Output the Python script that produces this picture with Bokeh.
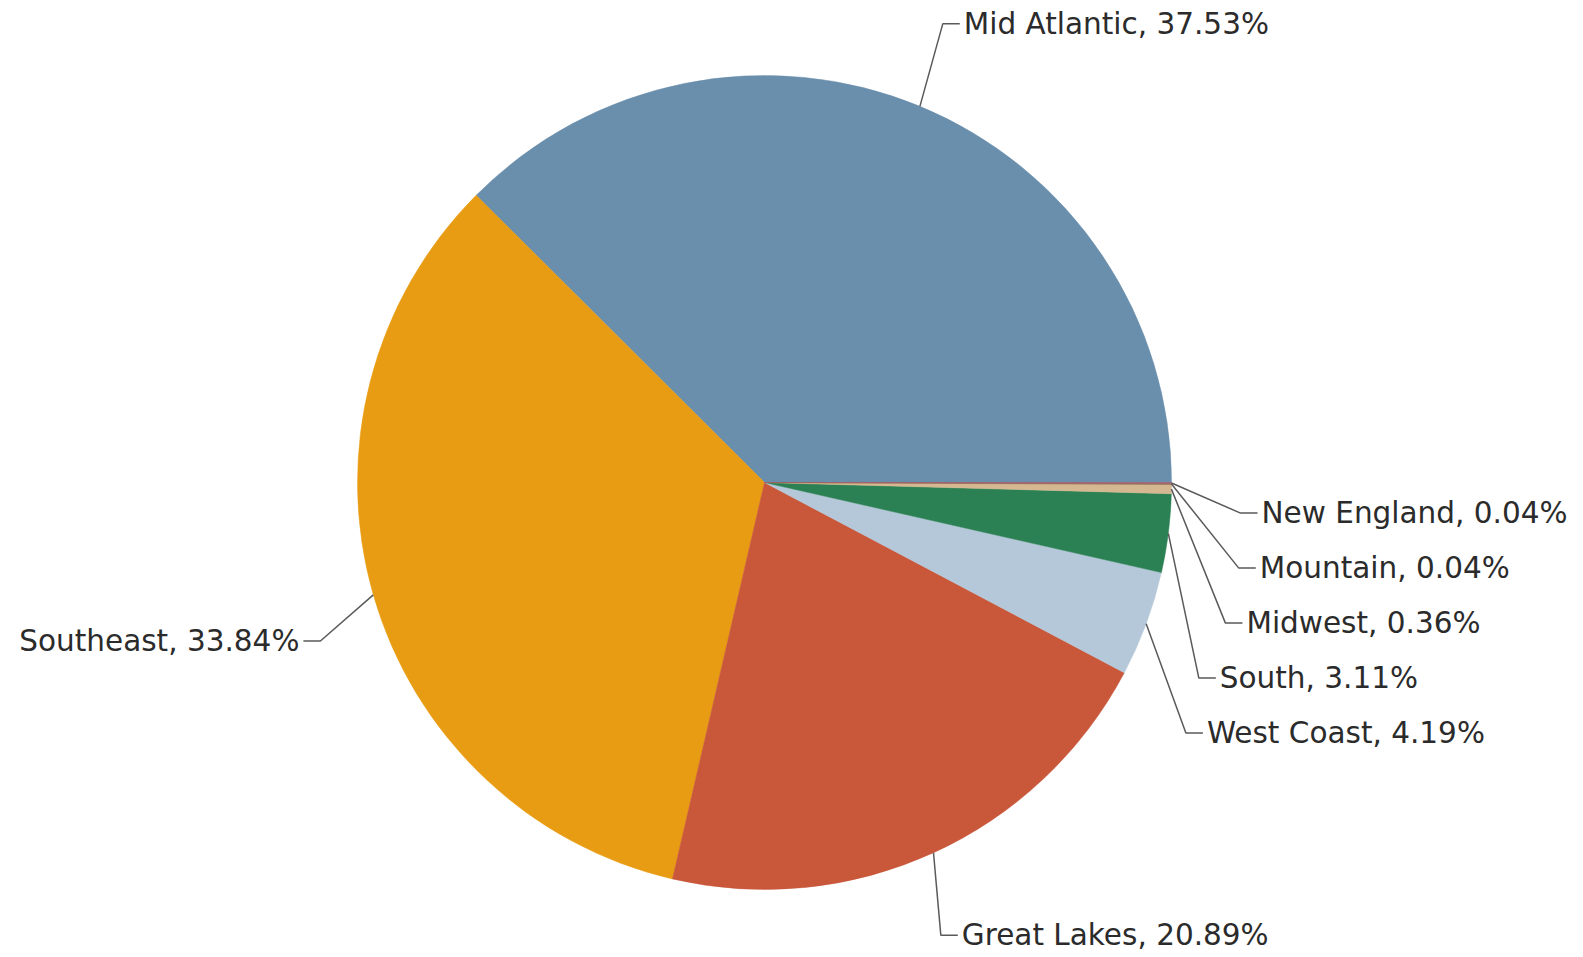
import math
from bokeh.plotting import figure
from bokeh.models import Range1d, ColumnDataSource
from bokeh.embed import file_html
from bokeh.resources import INLINE
from bokeh.core.properties import value

# ---------------- data ----------------
regions = ["Mid Atlantic", "Southeast", "Great Lakes", "West Coast",
           "South", "Midwest", "Mountain", "New England"]
shares = [37.53, 33.84, 20.89, 4.19, 3.11, 0.36, 0.04, 0.04]

# ---------------- style / layout ----------------
colors = ["#6a8fad", "#e89c13", "#c9573a", "#b5c8d9",
          "#2b8153", "#d5b891", "#8c6d4f", "#a05a6a"]
W, H = 1583, 957
CX, CY_S, R = 764, 482, 407          # pie centre (screen px) and radius
LR = 480                              # radius of leader elbows
GAP = 55                              # min vertical spacing of labels
TICK, PAD = 17, 4
# small per-label nudges of the elbow (screen px)
nudge = [(-5, -15), (9, 26), (-23, 16), (12, 30),
         (-4, 30), (2, 30), (2, 30), (-3, 30)]
FONT = "DejaVu Sans"
FSIZE = "29.5px"
TEXT_COLOR = "#2b2b2b"
LINE_COLOR = "#5a5a5a"

CY = H - CY_S

total = sum(shares)
starts, ends, mids = [], [], []
acc = 0.0
for v in shares:
    a0 = acc / total * 2 * math.pi
    acc += v
    a1 = acc / total * 2 * math.pi
    starts.append(a0)
    ends.append(a1)
    mids.append((a0 + a1) / 2)

p = figure(width=W, height=H, output_backend="svg", toolbar_location=None,
           x_range=Range1d(0, W), y_range=Range1d(0, H), min_border=0,
           background_fill_color="white", border_fill_color="white")
p.axis.visible = False
p.grid.visible = False
p.outline_line_color = None

src = ColumnDataSource(dict(start=starts, end=ends, color=colors, name=regions))
p.wedge(x=CX, y=CY, radius=R, start_angle="start", end_angle="end",
        fill_color="color", line_color="color", line_width=0.5, source=src)

# label layout: natural elbow positions, then de-overlap per side
nat = []
for m in mids:
    nat.append([CX + LR * math.cos(m), CY_S - LR * math.sin(m)])

for side in (1, -1):
    idx = [i for i in range(len(mids)) if (math.cos(mids[i]) >= 0) == (side == 1)]
    idx.sort(key=lambda i: nat[i][1])
    prev = None
    for i in idx:
        y = nat[i][1]
        if prev is not None and y < prev + GAP:
            y = prev + GAP
        nat[i][1] = y
        prev = y

xs, ys = [], []
rt = dict(x=[], y=[], t=[])
lt = dict(x=[], y=[], t=[])
for i, m in enumerate(mids):
    sx = CX + R * math.cos(m)
    sy = CY_S - R * math.sin(m)
    side = 1 if math.cos(m) >= 0 else -1
    ey = nat[i][1] + nudge[i][1]
    if abs(math.sin(m)) < 0.5 and abs(ey - CY_S) < LR:
        ex = CX + side * math.sqrt(LR ** 2 - (ey - CY_S) ** 2)
    else:
        ex = nat[i][0]
    ex += nudge[i][0]
    tx = ex + side * TICK
    xs.append([sx, ex, tx])
    ys.append([H - sy, H - ey, H - ey])
    label = f"{regions[i]}, {shares[i]:.2f}%"
    d = rt if side == 1 else lt
    d["x"].append(tx + side * PAD)
    d["y"].append(H - ey)
    d["t"].append(label)

p.multi_line(xs=xs, ys=ys, line_color=LINE_COLOR, line_width=1.5)
p.text(x="x", y="y", text="t", source=ColumnDataSource(rt),
       text_font=value(FONT), text_font_size=FSIZE, text_color=TEXT_COLOR,
       text_align="left", text_baseline="middle")
p.text(x="x", y="y", text="t", source=ColumnDataSource(lt),
       text_font=value(FONT), text_font_size=FSIZE, text_color=TEXT_COLOR,
       text_align="right", text_baseline="middle")

open("out.html", "w").write(file_html(p, INLINE))
